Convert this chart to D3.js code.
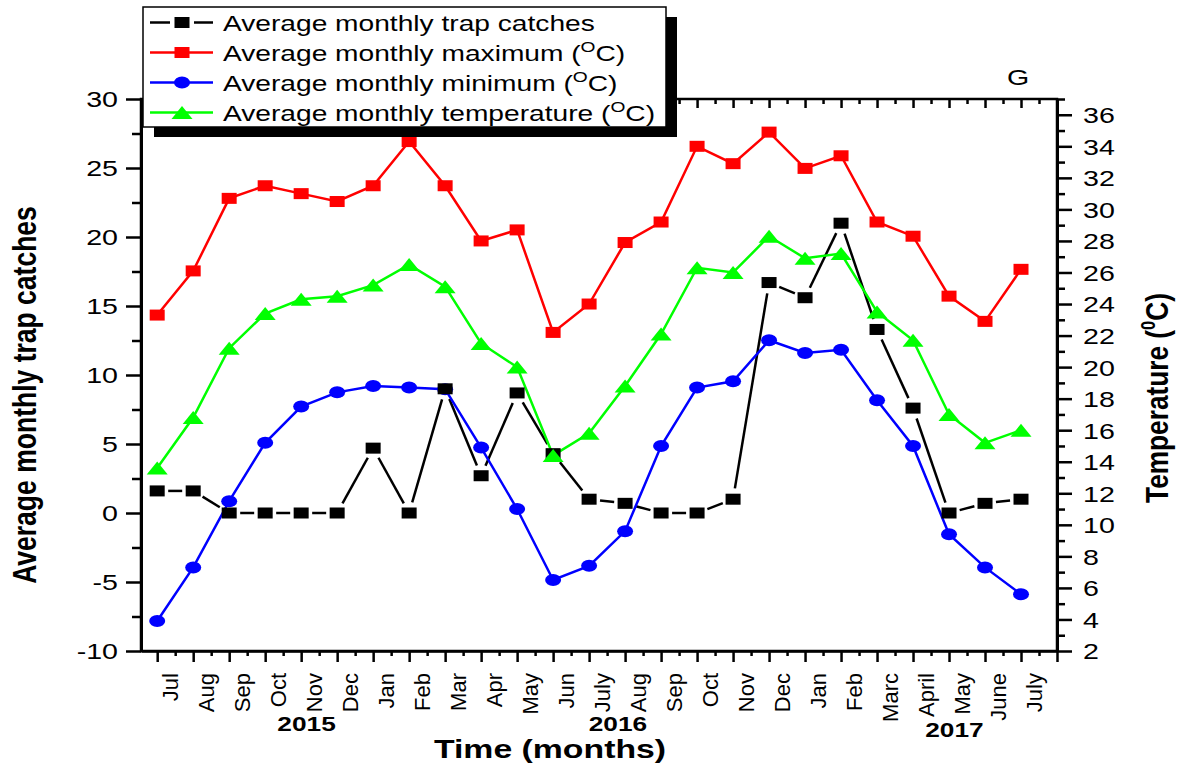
<!DOCTYPE html>
<html>
<head>
<meta charset="utf-8">
<script src="https://cdn.jsdelivr.net/npm/d3@7"></script>
<style>
  body { margin: 0; background: #fff; }
  svg { display: block; }
  text { font-family: Arial, "Liberation Sans", sans-serif; fill: #000; }
</style>
</head>
<body>
<div id="chart"></div>
<script>
// month labels along the x axis (Jul 2015 .. July 2017)
const months = ["Jul", "Aug", "Sep", "Oct", "Nov", "Dec", "Jan", "Feb", "Mar", "Apr", "May", "Jun",
                "July", "Aug", "Sep", "Oct", "Nov", "Dec", "Jan", "Feb", "Marc", "April", "May", "June", "July"];
const years = ["2015", "2016", "2017"];

// left axis series
const trapCatches = [1.6, 1.6, 0, 0, 0, 0, 4.7, 0, 9.0, 2.7, 8.7, 4.3,
                     1.0, 0.7, 0, 0, 1.0, 16.7, 15.6, 21.0, 13.3, 7.6, 0, 0.7, 1.0];
// right axis series (degrees C)
const maxTemp = [23.3, 26.1, 30.7, 31.5, 31.0, 30.5, 31.5, 34.3, 31.5, 28.0, 28.7, 22.2,
                 24.0, 27.9, 29.2, 34.0, 32.9, 34.9, 32.6, 33.4, 29.2, 28.3, 24.5, 22.9, 26.2];
const minTemp = [3.9, 7.3, 11.5, 15.2, 17.5, 18.4, 18.8, 18.7, 18.6, 14.9, 11.0, 6.5,
                 7.4, 9.6, 15.0, 18.7, 19.1, 21.7, 20.9, 21.1, 17.9, 15.0, 9.4, 7.3, 5.6];
const avgTemp = [13.6, 16.8, 21.2, 23.4, 24.3, 24.5, 25.2, 26.5, 25.1, 21.5, 20.0, 14.4,
                 15.8, 18.8, 22.1, 26.3, 26.0, 28.3, 26.9, 27.2, 23.5, 21.7, 17.0, 15.2, 16.0];

const leftTicks = [-10, -5, 0, 5, 10, 15, 20, 25, 30];
const rightTicks = [2, 4, 6, 8, 10, 12, 14, 16, 18, 20, 22, 24, 26, 28, 30, 32, 34, 36];

const W = 1181, H = 765;
const plot = { left: 141, right: 1057, top: 99, bottom: 651 };

const svg = d3.select('#chart').append('svg')
    .attr('width', W)
    .attr('height', H);

const x = d3.scaleLinear().domain([-0.45, 25]).range([plot.left, plot.right]);
const yL = d3.scaleLinear().domain([-10, 30]).range([plot.bottom, plot.top]);
const yR = d3.scaleLinear().domain([2, 37]).range([plot.bottom, plot.top]);

// text helper: horizontally stretched text, like the exported figure
function sText(parent, tx, ty, str, size, anchor, sx, weight, rotate) {
    const rot = rotate ? ` rotate(${rotate})` : '';
    return parent.append('text')
        .attr('transform', `translate(${tx},${ty})${rot} scale(${sx},1)`)
        .attr('text-anchor', anchor)
        .attr('font-size', size)
        .attr('font-weight', weight || 'normal')
        .text(str);
}

// frame
svg.append('rect')
    .attr('x', plot.left).attr('y', plot.top)
    .attr('width', plot.right - plot.left).attr('height', plot.bottom - plot.top)
    .attr('fill', 'none').attr('stroke', '#000').attr('stroke-width', 2.5);

function styleAxis(g, width) {
    g.attr('font-family', null).attr('font-size', null);
    g.select('.domain').attr('stroke-width', width);
    g.selectAll('.tick line').attr('stroke-width', 2.5);
}

// left axis
const gL = svg.append('g').attr('transform', `translate(${plot.left},0)`)
    .call(d3.axisLeft(yL).tickValues(leftTicks).tickSize(15).tickSizeOuter(0).tickFormat(d => String(d)));
styleAxis(gL, 3);
gL.selectAll('.tick text')
    .attr('x', null).attr('dy', '0.36em')
    .attr('font-size', 22)
    .attr('transform', 'translate(-23,0) scale(1.3,1)');
svg.append('g').attr('transform', `translate(${plot.left},0)`)
    .call(d3.axisLeft(yL).tickValues(d3.range(-7.5, 30, 5)).tickSize(9).tickFormat(''))
    .call(g => { g.select('.domain').remove(); g.selectAll('line').attr('stroke-width', 2.5); });

// right axis
const gR = svg.append('g').attr('transform', `translate(${plot.right},0)`)
    .call(d3.axisRight(yR).tickValues(rightTicks).tickSize(15).tickSizeOuter(0).tickFormat(d => String(d)));
styleAxis(gR, 3);
gR.selectAll('.tick text')
    .attr('x', null).attr('dy', '0.36em')
    .attr('font-size', 22)
    .attr('text-anchor', 'start')
    .attr('transform', 'translate(26,0) scale(1.3,1)');
svg.append('g').attr('transform', `translate(${plot.right},0)`)
    .call(d3.axisRight(yR).tickValues(d3.range(3, 38, 2)).tickSize(8).tickFormat(''))
    .call(g => { g.select('.domain').remove(); g.selectAll('line').attr('stroke-width', 2.5); });

// bottom axis ticks
const gB = svg.append('g').attr('transform', `translate(0,${plot.bottom})`)
    .call(d3.axisBottom(x).tickValues(d3.range(0, 26)).tickSize(11).tickSizeOuter(0).tickFormat(''));
styleAxis(gB, 2.5);
svg.append('g').attr('transform', `translate(0,${plot.bottom})`)
    .call(d3.axisBottom(x).tickValues(d3.range(0.5, 25, 1)).tickSize(5).tickFormat(''))
    .call(g => { g.select('.domain').remove(); g.selectAll('line').attr('stroke-width', 2.5); });

// top axis ticks (inward)
svg.append('g').attr('transform', `translate(0,${plot.top})`)
    .call(d3.axisBottom(x).tickValues(d3.range(0, 26)).tickSize(9).tickFormat(''))
    .call(g => { g.select('.domain').remove(); g.selectAll('line').attr('stroke-width', 2.5); });
svg.append('g').attr('transform', `translate(0,${plot.top})`)
    .call(d3.axisBottom(x).tickValues(d3.range(0.5, 25, 1)).tickSize(5).tickFormat(''))
    .call(g => { g.select('.domain').remove(); g.selectAll('line').attr('stroke-width', 2.5); });

// month labels, rotated, between ticks
const gM = svg.append('g');
months.forEach((m, i) => {
    sText(gM, x(i + 0.5) + 3, 673, m, 22, 'end', 1, 'normal', -90);
});

// year labels
const yearPos = [4.15, 12.8, 22.15];
const yearBase = [731, 731, 737];
years.forEach((yr, i) => sText(svg, x(yearPos[i]), yearBase[i], yr, 21, 'middle', 1.25, 'bold'));

// axis titles
sText(svg, 550, 758, 'Time (months)', 26, 'middle', 1.3, 'bold');
sText(svg, 36, 395, 'Average monthly trap catches', 34, 'middle', 0.78, 'bold', -90);
const rt = sText(svg, 1168, 398, 'Temperature (', 32, 'middle', 0.82, 'bold', -90);
rt.append('tspan').attr('font-size', 20).attr('dy', -13).text('0');
rt.append('tspan').attr('dy', 13).text('C)');

sText(svg, 1018, 85, 'G', 22, 'middle', 1.3);

// series
const series = [
    { name: 'Average monthly trap catches', values: trapCatches, y: yL, color: '#000000', symbol: 'square', unit: false, gap: true },
    { name: 'Average monthly maximum (', values: maxTemp, y: yR, color: '#ff0000', symbol: 'square', unit: true },
    { name: 'Average monthly minimum (', values: minTemp, y: yR, color: '#0000ff', symbol: 'circle', unit: true },
    { name: 'Average monthly temperature (', values: avgTemp, y: yR, color: '#00ff00', symbol: 'triangle', unit: true }
];

const GAP = 11;
const gLines = svg.append('g');
series.forEach(s => {
    const pts = s.values.map((v, i) => [x(i), s.y(v)]);
    if (s.gap) {
        // line segments stop short of each symbol
        for (let i = 0; i < pts.length - 1; i++) {
            const [x0, y0] = pts[i], [x1, y1] = pts[i + 1];
            const len = Math.hypot(x1 - x0, y1 - y0);
            if (len <= 2 * GAP) continue;
            const ux = (x1 - x0) / len, uy = (y1 - y0) / len;
            gLines.append('line')
                .attr('x1', x0 + ux * GAP).attr('y1', y0 + uy * GAP)
                .attr('x2', x1 - ux * GAP).attr('y2', y1 - uy * GAP)
                .attr('stroke', s.color).attr('stroke-width', 2.5);
        }
    } else {
        gLines.append('path')
            .attr('d', d3.line()(pts))
            .attr('fill', 'none').attr('stroke', s.color).attr('stroke-width', 2.5);
    }
});

function drawSymbol(g, type, cx, cy, color) {
    if (type === 'square') {
        g.append('rect').attr('x', cx - 7.5).attr('y', cy - 5.5)
            .attr('width', 15).attr('height', 11).attr('fill', color);
    } else if (type === 'circle') {
        g.append('ellipse').attr('cx', cx).attr('cy', cy)
            .attr('rx', 8).attr('ry', 6).attr('fill', color);
    } else {
        g.append('path')
            .attr('d', `M${cx - 10.5},${cy + 6.5}L${cx},${cy - 6.5}L${cx + 10.5},${cy + 6.5}Z`)
            .attr('fill', color);
    }
}

const gSym = svg.append('g');
[1, 2, 0, 3].forEach(k => {
    const s = series[k];
    s.values.forEach((v, i) => drawSymbol(gSym, s.symbol, x(i), s.y(v), s.color));
});

// legend with drop shadow
const lg = svg.append('g');
const box = { x: 143, y: 7, w: 523, h: 120 };
lg.append('rect').attr('x', box.x + 11).attr('y', box.y + 10)
    .attr('width', box.w).attr('height', box.h).attr('fill', '#000');
lg.append('rect').attr('x', box.x).attr('y', box.y)
    .attr('width', box.w).attr('height', box.h)
    .attr('fill', '#fff').attr('stroke', '#000').attr('stroke-width', 1.5);

series.forEach((s, i) => {
    const cy = 22.5 + 30 * i;
    if (s.gap) {
        lg.append('line').attr('x1', 150).attr('x2', 170).attr('y1', cy).attr('y2', cy)
            .attr('stroke', s.color).attr('stroke-width', 2.5);
        lg.append('line').attr('x1', 194).attr('x2', 213).attr('y1', cy).attr('y2', cy)
            .attr('stroke', s.color).attr('stroke-width', 2.5);
    } else {
        lg.append('line').attr('x1', 150).attr('x2', 213).attr('y1', cy).attr('y2', cy)
            .attr('stroke', s.color).attr('stroke-width', 2.5);
    }
    drawSymbol(lg, s.symbol, 182, cy, s.color);
    const t = sText(lg, 223, cy + 8, s.name, 22, 'start', 1.28);
    if (s.unit) {
        t.append('tspan').attr('font-size', 15).attr('dy', -9).text('O');
        t.append('tspan').attr('dy', 9).text('C)');
    }
});
</script>
</body>
</html>
